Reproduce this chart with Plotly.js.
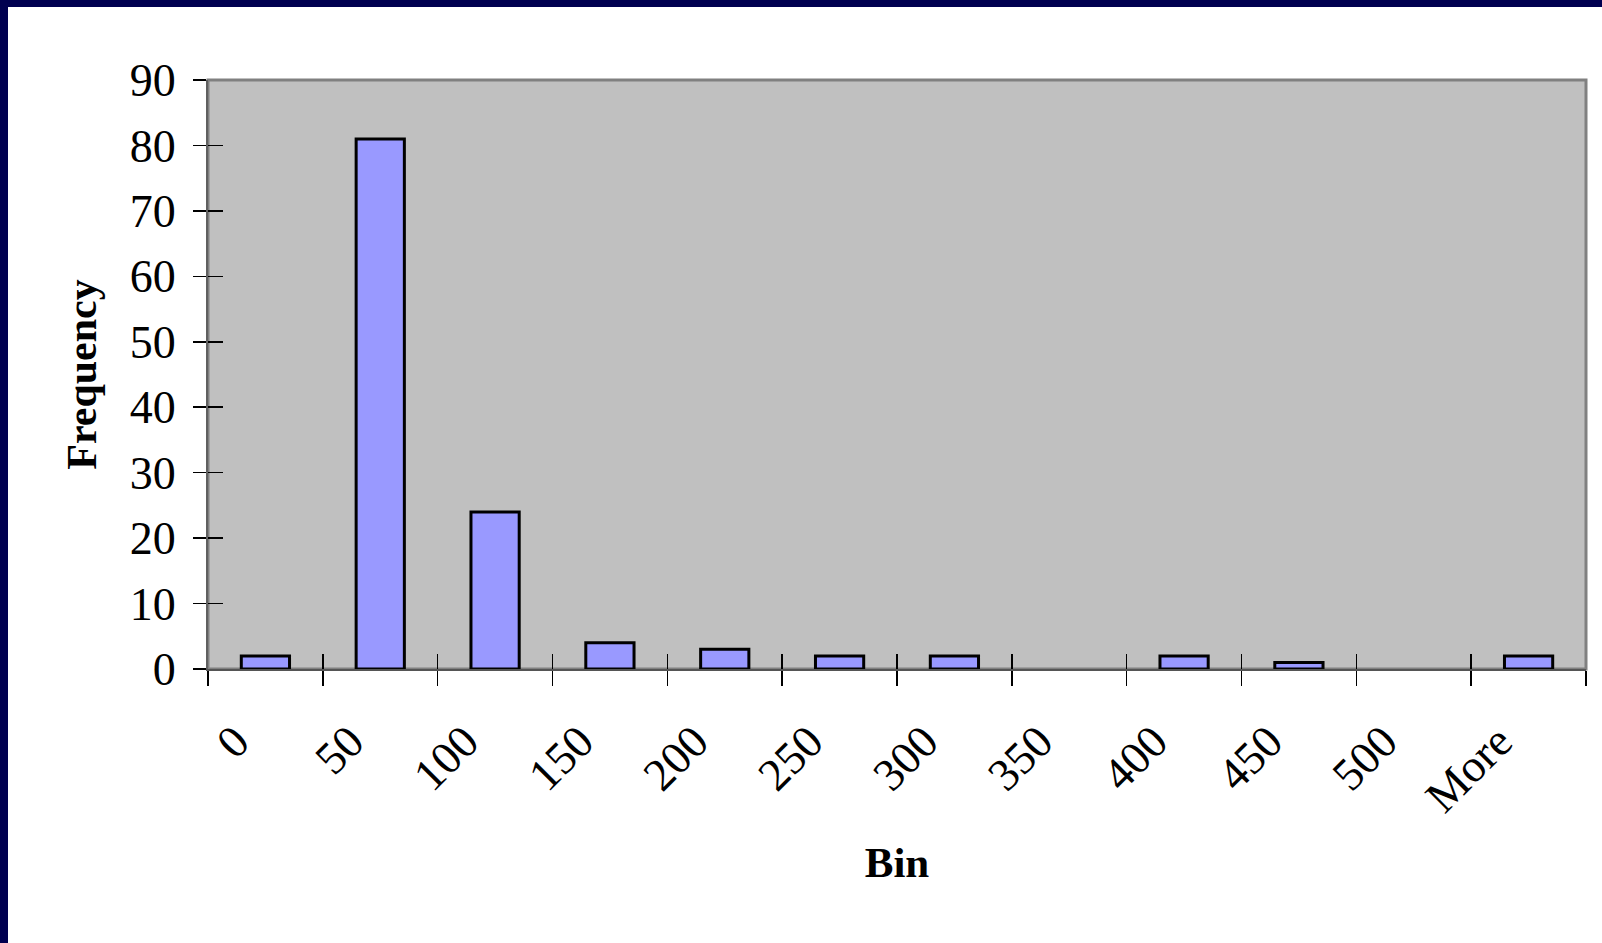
<!DOCTYPE html>
<html>
<head>
<meta charset="utf-8">
<script src="https://cdn.plot.ly/plotly-3.0.1.min.js"></script>
<style>
  html, body { margin: 0; padding: 0; background: #000050; width: 1602px; height: 943px; overflow: hidden; }
  #frame { position: absolute; left: 8px; top: 7px; width: 1594px; height: 936px; background: #ffffff; }
  #chart { width: 1594px; height: 936px; }
</style>
</head>
<body>
<div id="frame"><div id="chart"></div></div>
<script>
const bins = ["0", "50", "100", "150", "200", "250", "300", "350", "400", "450", "500", "More"];
const frequency = [2, 81, 24, 4, 3, 2, 2, 0, 2, 1, 0, 2];
const yTicks = [0, 10, 20, 30, 40, 50, 60, 70, 80, 90];

const serif = "Liberation Serif, Times New Roman, serif";

const traces = [
  {
    type: "bar",
    x: bins,
    y: frequency,
    marker: {
      color: "#9999FF",
      line: { color: "#000000", width: frequency.map(v => (v > 0 ? 3 : 0)) }
    },
    hoverinfo: "x+y",
    xaxis: "x",
    yaxis: "y"
  },
  {
    type: "bar",
    x: bins,
    y: frequency,
    marker: { color: "rgba(0,0,0,0)", line: { width: 0 } },
    hoverinfo: "skip",
    showlegend: false,
    xaxis: "x2",
    yaxis: "y2"
  }
];

const layout = {
  width: 1594,
  height: 936,
  margin: { l: 200, r: 16, t: 73, b: 274 },
  paper_bgcolor: "#ffffff",
  plot_bgcolor: "#C0C0C0",
  showlegend: false,
  bargap: 0.58,
  font: { family: serif, color: "#000000", size: 46 },
  xaxis: {
    type: "category",
    categoryorder: "array",
    categoryarray: bins,
    tickson: "boundaries",
    ticks: "outside",
    ticklen: 15,
    tickwidth: 1.5,
    tickcolor: "#000000",
    tickangle: -45,
    tickfont: { family: serif, size: 46, color: "#000000" },
    ticklabelshift: -30,
    ticklabelstandoff: 25,
    showline: true,
    linecolor: "#555555",
    linewidth: 2,
    showgrid: false,
    zeroline: false,
    title: { text: "<b>Bin</b>", font: { family: serif, size: 43, color: "#000000" }, standoff: 26 },
    fixedrange: true
  },
  yaxis: {
    range: [0, 90],
    tickvals: yTicks,
    ticktext: yTicks.map(String),
    ticks: "outside",
    ticklen: 13,
    tickwidth: 1.5,
    tickcolor: "#000000",
    tickfont: { family: serif, size: 46, color: "#000000" },
    ticklabelstandoff: 8,
    showline: true,
    linecolor: "#606060",
    linewidth: 2,
    showgrid: false,
    zeroline: false,
    title: { text: "<b>Frequency</b>", font: { family: serif, size: 42, color: "#000000" }, standoff: 20 },
    fixedrange: true
  },
  xaxis2: {
    type: "category",
    categoryorder: "array",
    categoryarray: bins,
    overlaying: "x",
    side: "bottom",
    tickson: "boundaries",
    ticks: "inside",
    ticklen: 15,
    tickwidth: 1.5,
    tickcolor: "#000000",
    showticklabels: false,
    showline: false,
    showgrid: false,
    zeroline: false,
    fixedrange: true
  },
  yaxis2: {
    range: [0, 90],
    tickvals: yTicks,
    overlaying: "y",
    side: "left",
    ticks: "inside",
    ticklen: 15,
    tickwidth: 1.5,
    tickcolor: "#000000",
    showticklabels: false,
    showline: false,
    showgrid: false,
    zeroline: false,
    fixedrange: true
  },
  shapes: [
    {
      type: "rect", xref: "paper", yref: "paper",
      x0: 0, x1: 1, y0: 0, y1: 1,
      line: { color: "#808080", width: 3 },
      fillcolor: "rgba(0,0,0,0)",
      layer: "below"
    }
  ]
};

Plotly.newPlot("chart", traces, layout, { displayModeBar: false, staticPlot: true });
</script>
</body>
</html>
